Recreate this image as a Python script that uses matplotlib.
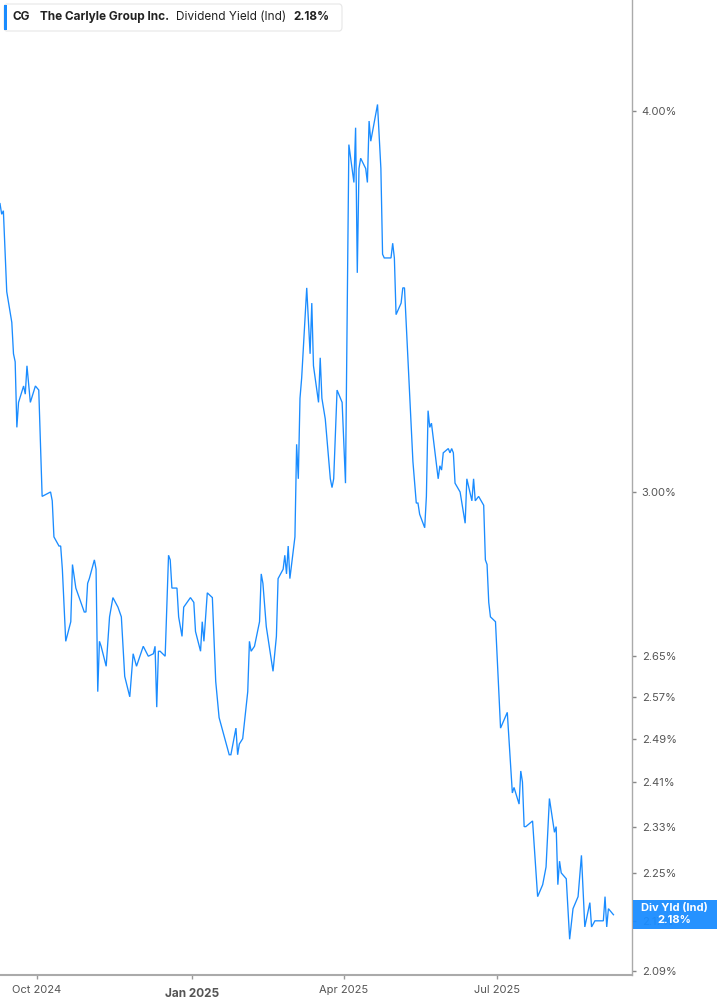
import numpy as np
import pandas as pd
import matplotlib
matplotlib.use("Agg")
import matplotlib.pyplot as plt
import matplotlib.dates as mdates
from matplotlib.patches import Rectangle, FancyBboxPatch
from matplotlib.ticker import FixedLocator, FixedFormatter, NullLocator, NullFormatter

plt.rcParams['font.family'] = ['Inter', 'DejaVu Sans']

# Dividend yield (Ind)
dates = [
    "2024-09-09", "2024-09-10", "2024-09-11", "2024-09-13", "2024-09-16", "2024-09-17", "2024-09-18",
    "2024-09-19", "2024-09-20", "2024-09-23", "2024-09-24", "2024-09-25", "2024-09-27", "2024-09-30",
    "2024-10-02", "2024-10-04", "2024-10-09", "2024-10-10", "2024-10-11", "2024-10-14", "2024-10-15",
    "2024-10-16", "2024-10-18", "2024-10-21", "2024-10-22", "2024-10-24", "2024-10-25", "2024-10-29",
    "2024-10-30", "2024-10-31", "2024-11-01", "2024-11-04", "2024-11-05", "2024-11-06", "2024-11-07",
    "2024-11-08", "2024-11-11", "2024-11-13", "2024-11-15", "2024-11-18", "2024-11-20", "2024-11-22",
    "2024-11-25", "2024-11-27", "2024-11-29", "2024-12-03", "2024-12-06", "2024-12-09", "2024-12-10",
    "2024-12-11", "2024-12-12", "2024-12-13", "2024-12-16", "2024-12-18", "2024-12-19", "2024-12-20",
    "2024-12-23", "2024-12-24", "2024-12-26", "2024-12-27", "2024-12-31", "2025-01-02", "2025-01-03",
    "2025-01-06", "2025-01-07", "2025-01-08", "2025-01-10", "2025-01-13", "2025-01-15", "2025-01-17",
    "2025-01-23", "2025-01-24", "2025-01-27", "2025-01-28", "2025-01-29", "2025-01-31", "2025-02-03",
    "2025-02-04", "2025-02-05", "2025-02-07", "2025-02-10", "2025-02-11", "2025-02-12", "2025-02-14",
    "2025-02-18", "2025-02-20", "2025-02-21", "2025-02-24", "2025-02-25", "2025-02-26", "2025-02-27",
    "2025-02-28", "2025-03-03", "2025-03-04", "2025-03-05", "2025-03-06", "2025-03-07", "2025-03-10",
    "2025-03-12", "2025-03-13", "2025-03-14", "2025-03-17", "2025-03-18", "2025-03-19", "2025-03-21",
    "2025-03-24", "2025-03-25", "2025-03-26", "2025-03-28", "2025-03-31", "2025-04-02", "2025-04-04",
    "2025-04-07", "2025-04-08", "2025-04-09", "2025-04-10", "2025-04-11", "2025-04-14", "2025-04-15",
    "2025-04-16", "2025-04-17", "2025-04-21", "2025-04-23", "2025-04-24", "2025-04-25", "2025-04-29",
    "2025-04-30", "2025-05-01", "2025-05-02", "2025-05-05", "2025-05-06", "2025-05-07", "2025-05-09",
    "2025-05-12", "2025-05-14", "2025-05-15", "2025-05-16", "2025-05-19", "2025-05-20", "2025-05-21",
    "2025-05-22", "2025-05-23", "2025-05-27", "2025-05-28", "2025-05-29", "2025-05-30", "2025-06-02",
    "2025-06-03", "2025-06-04", "2025-06-05", "2025-06-06", "2025-06-09", "2025-06-12", "2025-06-13",
    "2025-06-16", "2025-06-17", "2025-06-18", "2025-06-20", "2025-06-23", "2025-06-24", "2025-06-25",
    "2025-06-26", "2025-06-27", "2025-06-30", "2025-07-03", "2025-07-07", "2025-07-10", "2025-07-11",
    "2025-07-14", "2025-07-15", "2025-07-16", "2025-07-17", "2025-07-18", "2025-07-22", "2025-07-25",
    "2025-07-28", "2025-07-30", "2025-08-01", "2025-08-04", "2025-08-05", "2025-08-06", "2025-08-07",
    "2025-08-08", "2025-08-11", "2025-08-13", "2025-08-15", "2025-08-18", "2025-08-20", "2025-08-22",
    "2025-08-25", "2025-08-26", "2025-08-28", "2025-08-29", "2025-09-02", "2025-09-03", "2025-09-04",
    "2025-09-05", "2025-09-08",
]
div_yield = [
    3.73, 3.70, 3.71, 3.49, 3.41, 3.33, 3.31,
    3.15, 3.21, 3.25, 3.23, 3.30, 3.21, 3.25,
    3.24, 2.99, 3.00, 2.98, 2.90, 2.88, 2.88,
    2.83, 2.68, 2.72, 2.84, 2.79, 2.78, 2.74,
    2.74, 2.80, 2.81, 2.85, 2.83, 2.58, 2.68,
    2.67, 2.63, 2.73, 2.77, 2.75, 2.73, 2.61,
    2.57, 2.655, 2.63, 2.67, 2.65, 2.655, 2.67,
    2.55, 2.66, 2.66, 2.65, 2.86, 2.85, 2.79,
    2.79, 2.73, 2.69, 2.75, 2.77, 2.76, 2.70,
    2.66, 2.72, 2.68, 2.78, 2.77, 2.60, 2.53,
    2.46, 2.46, 2.51, 2.46, 2.48, 2.49, 2.58,
    2.68, 2.66, 2.67, 2.72, 2.82, 2.80, 2.71,
    2.62, 2.69, 2.81, 2.83, 2.86, 2.82, 2.88,
    2.81, 2.90, 3.11, 3.03, 3.22, 3.27, 3.50,
    3.33, 3.46, 3.30, 3.21, 3.32, 3.22, 3.17,
    3.03, 3.01, 3.03, 3.24, 3.21, 3.02, 3.90,
    3.79, 3.95, 3.54, 3.83, 3.86, 3.83, 3.79,
    3.97, 3.91, 4.02, 3.83, 3.59, 3.58, 3.58,
    3.62, 3.58, 3.43, 3.46, 3.50, 3.50, 3.32,
    3.07, 2.975, 2.975, 2.95, 2.92, 2.99, 3.19,
    3.15, 3.16, 3.03, 3.06, 3.05, 3.09, 3.10,
    3.09, 3.10, 3.09, 3.02, 3.00, 2.93, 3.03,
    2.98, 3.03, 2.98, 2.99, 2.97, 2.85, 2.84,
    2.76, 2.73, 2.72, 2.51, 2.54, 2.39, 2.40,
    2.37, 2.43, 2.41, 2.33, 2.33, 2.34, 2.21,
    2.23, 2.26, 2.38, 2.32, 2.33, 2.23, 2.27,
    2.25, 2.24, 2.14, 2.19, 2.21, 2.28, 2.16,
    2.20, 2.16, 2.17, 2.17, 2.17, 2.21, 2.16,
    2.19, 2.18,
]

y_ticks = [2.09, 2.17, 2.25, 2.33, 2.41, 2.49, 2.57, 2.65, 3.00, 4.00]
x_tick_dates = ["2024-10-01", "2025-01-01", "2025-04-01", "2025-07-01"]
x_tick_labels = ["Oct 2024", "Jan 2025", "Apr 2025", "Jul 2025"]
last_value = div_yield[-1]

line_color = "#1a8cff"
W, H = 717, 1005

fig = plt.figure(figsize=(W / 100, H / 100), dpi=100)
ax = fig.add_axes([0, 30 / H, 632 / W, 975 / H])

x = pd.to_datetime(dates)
ax.plot(x, div_yield, color=line_color, lw=0.95, solid_joinstyle="miter")

ax.set_yscale("log")
ax.set_ylim(2.083, 4.35)
ax.set_xlim(pd.Timestamp("2024-09-09"), pd.Timestamp("2025-09-19"))

ax.yaxis.tick_right()
ax.yaxis.set_major_locator(FixedLocator(y_ticks))
ax.yaxis.set_major_formatter(FixedFormatter([f"{v:.2f}%" for v in y_ticks]))
ax.yaxis.set_minor_locator(NullLocator())
ax.yaxis.set_minor_formatter(NullFormatter())
ax.tick_params(axis="y", length=3, width=1, color="#888888", labelcolor="#555555",
               labelsize=8, pad=4)

xt = pd.to_datetime(x_tick_dates)
ax.set_xticks(xt)
ax.set_xticklabels(["Oct 2024", "", "Apr 2025", "Jul 2025"])
ax.tick_params(axis="x", length=3, width=1, color="#999999", labelcolor="#555555",
               labelsize=8, pad=4)
# Jan 2025 is drawn bolder and a bit lower
ax.text(xt[1], -0.0135, x_tick_labels[1], transform=ax.get_xaxis_transform(),
        ha="center", va="top", fontsize=8.5, fontweight="bold", color="#555555")

for s in ["left", "top"]:
    ax.spines[s].set_visible(False)
ax.spines["right"].set_color("#aaaaaa")
ax.spines["right"].set_linewidth(1)
ax.spines["bottom"].set_color("#aaaaaa")
ax.spines["bottom"].set_linewidth(1.5)

# last value tag on the right axis (covers the 2.17% tick like the original)
tag_y = ax.transData.transform((0, last_value))[1] / H
fig.add_artist(Rectangle((633 / W, tag_y - 14 / H), (W - 633) / W, 29 / H,
                         transform=fig.transFigure, facecolor=line_color,
                         edgecolor="none", alpha=0.95, zorder=5))
fig.text(674 / W, tag_y + 7 / H, "Div Yld (Ind)", ha="center", va="center",
         color="white", fontsize=8, fontweight="bold", zorder=6)
fig.text(674 / W, tag_y - 5 / H, f"{last_value:.2f}%", ha="center", va="center",
         color="white", fontsize=8, fontweight="bold", zorder=6)

# header box
fig.add_artist(FancyBboxPatch((4 / W, 1 - 31 / H), 338 / W, 27 / H,
                              boxstyle="round,pad=0,rounding_size=0.004",
                              transform=fig.transFigure, facecolor="white",
                              edgecolor="#e6e6e6", lw=0.8, zorder=5))
fig.add_artist(Rectangle((4 / W, 1 - 30 / H), 3 / W, 25 / H, transform=fig.transFigure,
                         facecolor=line_color, edgecolor="none", zorder=6))
hy = 1 - 17 / H
fig.text(13 / W, hy, "CG", fontsize=8.5, fontweight="bold", color="#222222", va="center", zorder=6)
fig.text(40 / W, hy, "The Carlyle Group Inc.", fontsize=8.5, fontweight="bold",
         color="#222222", va="center", zorder=6)
fig.text(176 / W, hy, "Dividend Yield (Ind)", fontsize=8.5, color="#222222", va="center", zorder=6)
fig.text(293 / W, hy, f"{last_value:.2f}%", fontsize=8.5, fontweight="bold",
         color="#222222", va="center", zorder=6)

fig.savefig("out.png", dpi=100)
